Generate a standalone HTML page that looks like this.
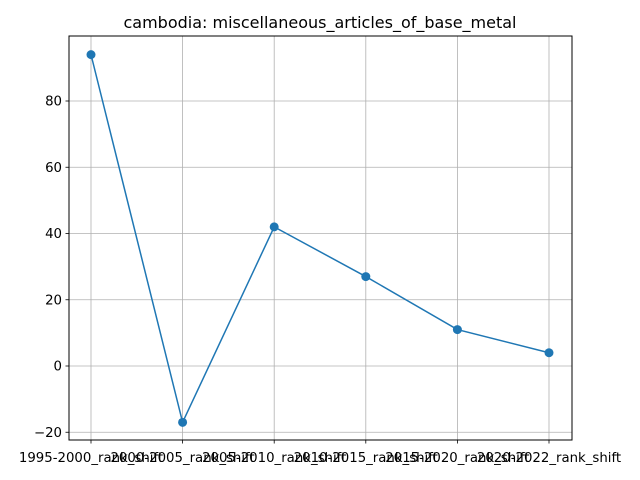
<!DOCTYPE html>
<html><head><meta charset="utf-8"><style>
body{margin:0;background:#fff;}
svg{display:block;font-family:"DejaVu Sans","Liberation Sans",sans-serif;}
</style></head><body>
<svg id="chart" width="640" height="480">
<rect width="640" height="480" fill="#fff"/>
<text x="320" y="28" text-anchor="middle" font-size="16">cambodia: miscellaneous_articles_of_base_metal</text>
<g id="grid"></g>
<g id="axes"></g>
<g id="series"></g>
<rect x="69" y="36" width="503" height="404" fill="none" stroke="#000" stroke-width="1"/>
</svg>
<script>
const categories = ["1995-2000_rank_shift","2000-2005_rank_shift","2005-2010_rank_shift","2010-2015_rank_shift","2015-2020_rank_shift","2020-2022_rank_shift"];
const values = [94, -17, 42, 27, 11, 4];
const yTicks = [-20, 0, 20, 40, 60, 80];

const NS = "http://www.w3.org/2000/svg";
const x0 = 91, dx = 91.6;
function xPos(i){ return x0 + i*dx; }
function yPos(v){ return 366 - v*3.3125; }
function mk(tag, attrs, parent){
  const e = document.createElementNS(NS, tag);
  for (const k in attrs) e.setAttribute(k, attrs[k]);
  parent.appendChild(e); return e;
}
const grid = document.getElementById('grid');
const axes = document.getElementById('axes');
const series = document.getElementById('series');

yTicks.forEach(t => {
  const y = yPos(t);
  const g = mk('line', {x1:69, x2:572, y1:y, y2:y, stroke:'#b0b0b0', 'stroke-width':0.8}, grid);
  
  
  const tk = mk('line', {x1:65.5, x2:69, y1:y, y2:y, stroke:'#000', 'stroke-width':0.8}, axes);
  
  
  const lb = mk('text', {x:62, y:y+4.5, 'text-anchor':'end', 'font-size':13.3}, axes);
  lb.textContent = t < 0 ? '\u2212' + Math.abs(t) : String(t);
  
  
});

categories.forEach((c, i) => {
  const x = xPos(i);
  const g = mk('line', {x1:x, x2:x, y1:36, y2:440, stroke:'#b0b0b0', 'stroke-width':0.8}, grid);
  
  
  const tk = mk('line', {x1:x, x2:x, y1:440, y2:443.5, stroke:'#000', 'stroke-width':0.8}, axes);
  
  
  const lb = mk('text', {x:x, y:462, 'text-anchor':'middle', 'font-size':13.3}, axes);
  lb.textContent = c;
  
  
});

const pts = values.map((v, i) => xPos(i) + ',' + yPos(v)).join(' ');
const line = mk('polyline', {points:pts, fill:'none', stroke:'#1f77b4', 'stroke-width':1.5}, series);


values.forEach((v, i) => {
  const c = mk('circle', {cx:xPos(i), cy:yPos(v), r:4.5, fill:'#1f77b4'}, series);
  
  
});
</script>
</body></html>
